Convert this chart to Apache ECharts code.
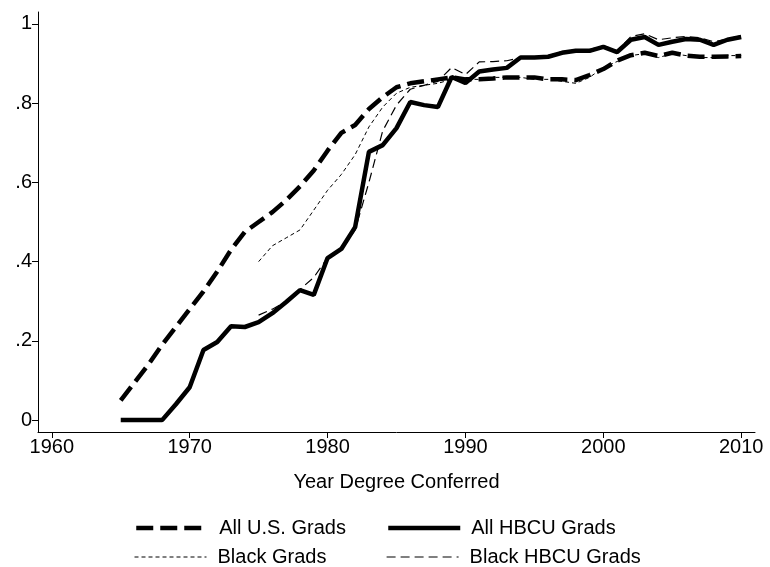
<!DOCTYPE html>
<html>
<head>
<meta charset="utf-8">
<script src="https://cdn.jsdelivr.net/npm/echarts@6/dist/echarts.min.js"></script>
<style>
  html, body { margin: 0; padding: 0; background: #fff; }
  #chart { width: 770px; height: 567px; }
</style>
</head>
<body>
<div id="chart"></div>
<script>
// 年份与四条序列
var years = [1965,1966,1967,1968,1969,1970,1971,1972,1973,1974,1975,1976,1977,1978,1979,
             1980,1981,1982,1983,1984,1985,1986,1987,1988,1989,1990,1991,1992,1993,1994,
             1995,1996,1997,1998,1999,2000,2001,2002,2003,2004,2005,2006,2007,2008,2009,2010];

var allUS = [0.05,0.095,0.14,0.19,0.235,0.28,0.325,0.375,0.43,0.475,0.50,0.525,0.555,0.59,0.63,
             0.68,0.725,0.745,0.785,0.815,0.84,0.85,0.855,0.86,0.865,0.86,0.86,0.862,0.865,0.865,
             0.865,0.86,0.86,0.858,0.871,0.886,0.907,0.921,0.927,0.919,0.927,0.92,0.917,0.917,0.918,0.919];

var allHBCU = [0,0,0,0,0.04,0.083,0.177,0.197,0.237,0.235,0.247,0.27,0.298,0.328,0.316,
               0.409,0.432,0.487,0.677,0.694,0.737,0.803,0.795,0.79,0.866,0.851,0.88,0.885,0.889,0.915,
               0.915,0.917,0.927,0.932,0.932,0.942,0.929,0.96,0.967,0.947,0.955,0.962,0.96,0.947,0.96,0.967];

// 1975 起
var blackYears = years.slice(10);

var blackGrads = [0.40,0.44,0.46,0.48,0.53,0.58,0.62,0.67,0.74,0.79,0.825,0.84,0.845,0.85,0.86,
                  0.86,0.86,0.865,0.865,0.865,0.86,0.86,0.855,0.85,0.865,0.89,0.905,0.92,0.925,0.915,
                  0.925,0.92,0.915,0.915,0.92,0.92];

var blackHBCU = [0.265,0.28,0.30,0.33,0.36,0.41,0.43,0.48,0.60,0.73,0.795,0.835,0.845,0.855,0.89,
                 0.872,0.904,0.905,0.907,0.915,0.915,0.92,0.93,0.935,0.935,0.945,0.932,0.968,0.975,0.96,
                 0.965,0.968,0.965,0.955,0.962,0.97];

var xTicks = [1960,1970,1980,1990,2000,2010];
var yTicks = [0,0.2,0.4,0.6,0.8,1];

function zip(xs, ys) {
    return xs.map(function (x, i) { return [x, ys[i]]; });
}

var font = 'Liberation Sans, Arial, sans-serif';

var chart = echarts.init(document.getElementById('chart'));

function legendAt(name, left, top) {
    return {
        data: [name],
        left: left,
        top: top,
        itemWidth: 72,
        itemHeight: 14,
        padding: 0,
        selectedMode: false,
        itemStyle: { opacity: 0 },
        lineStyle: { width: 'inherit', type: 'inherit', color: '#000' },
        textStyle: { fontFamily: font, fontSize: 20, color: '#000', padding: [0, 0, 0, 6] }
    };
}

option = {
    animation: false,
    backgroundColor: '#fff',
    color: ['#000'],
    grid: { left: 38, right: 15, top: 12, bottom: 135 },
    legend: [
        legendAt('All U.S. Grads', 134, 518),
        legendAt('All HBCU Grads', 386, 518),
        legendAt('Black Grads', 134, 547),
        legendAt('Black HBCU Grads', 386, 547)
    ],
    xAxis: {
        type: 'value',
        min: 1959,
        max: 2011,
        name: 'Year Degree Conferred',
        nameLocation: 'middle',
        nameGap: 40,
        nameTextStyle: { fontFamily: font, fontSize: 20, color: '#000' },
        splitLine: { show: false },
        axisLine: { show: true, onZero: false, lineStyle: { color: '#000', width: 1 } },
        axisTick: { show: true, length: 6, customValues: xTicks, lineStyle: { color: '#000' } },
        axisLabel: {
            customValues: xTicks,
            margin: 5,
            fontFamily: font, fontSize: 20, color: '#000',
            formatter: function (v) { return String(v); }
        }
    },
    yAxis: {
        type: 'value',
        min: -0.03,
        max: 1.03,
        splitLine: { show: false },
        axisLine: { show: true, onZero: false, lineStyle: { color: '#000', width: 1 } },
        axisTick: { show: true, length: 6, customValues: yTicks, lineStyle: { color: '#000' } },
        axisLabel: {
            customValues: yTicks,
            margin: 6,
            fontFamily: font, fontSize: 20, color: '#000',
            formatter: function (v) {
                if (v === 0) return '0';
                if (v === 1) return '1';
                return String(Math.round(v * 10) / 10).replace('0.', '.');
            }
        }
    },
    series: [
        {
            name: 'All U.S. Grads',
            type: 'line',
            symbol: 'none',
            data: zip(years, allUS),
            itemStyle: { color: '#000' },
            lineStyle: { color: '#000', width: 4.5, type: [17, 7], cap: 'butt' },
            z: 4
        },
        {
            name: 'All HBCU Grads',
            type: 'line',
            symbol: 'none',
            data: zip(years, allHBCU),
            itemStyle: { color: '#000' },
            lineStyle: { color: '#000', width: 4.5, type: 'solid' },
            z: 3
        },
        {
            name: 'Black Grads',
            type: 'line',
            symbol: 'none',
            data: zip(blackYears, blackGrads),
            itemStyle: { color: '#000' },
            lineStyle: { color: '#000', width: 1, type: [4, 3] },
            z: 5
        },
        {
            name: 'Black HBCU Grads',
            type: 'line',
            symbol: 'none',
            data: zip(blackYears, blackHBCU),
            itemStyle: { color: '#000' },
            lineStyle: { color: '#000', width: 1.2, type: [9, 5] },
            z: 5
        }
    ]
};

chart.setOption(option);
</script>
</body>
</html>
